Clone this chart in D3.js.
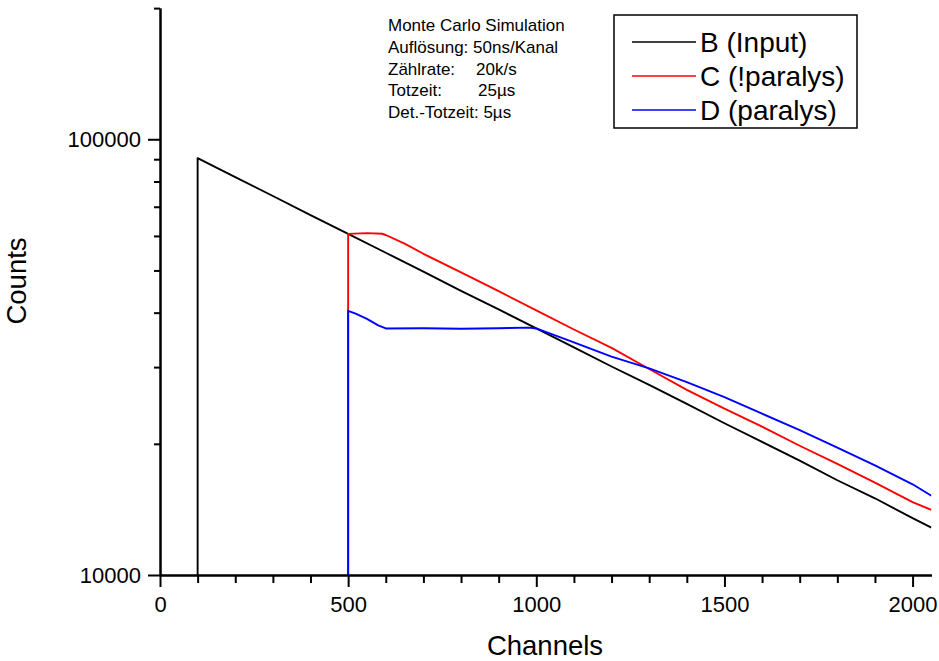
<!DOCTYPE html>
<html>
<head>
<meta charset="utf-8">
<script src="https://cdn.jsdelivr.net/npm/d3@7"></script>
<style>
  body { margin: 0; background: #fff; }
  svg { font-family: "Liberation Sans", Arial, sans-serif; }
</style>
</head>
<body>
<svg id="chart" width="939" height="661"></svg>
<script>
// values (channel, counts)
var channelsB = [100, 100, 200, 300, 400, 500, 600, 700, 800, 900, 1000, 1100, 1200, 1300, 1400, 1500, 1600, 1700, 1800, 1900, 2000, 2050];
var countsB   = [5000, 90500, 81900, 74100, 67000, 60650, 54900, 49700, 44900, 40700, 36800, 33300, 30100, 27300, 24700, 22300, 20200, 18300, 16500, 15000, 13500, 12850];

var channelsC = [500, 500, 550, 590, 600, 650, 700, 800, 900, 1000, 1100, 1200, 1300, 1400, 1500, 1600, 1700, 1800, 1900, 2000, 2050];
var countsC   = [5000, 60650, 60900, 60700, 60300, 57600, 54600, 49500, 44800, 40500, 36600, 33200, 29700, 26600, 24100, 21900, 19800, 18000, 16300, 14700, 14100];

var channelsD = [500, 500, 520, 550, 580, 600, 700, 800, 900, 980, 1000, 1100, 1200, 1300, 1400, 1500, 1600, 1700, 1800, 1900, 2000, 2050];
var countsD   = [5000, 40400, 39800, 38700, 37400, 36800, 36850, 36750, 36850, 36950, 36800, 34200, 31700, 29800, 27700, 25600, 23450, 21500, 19600, 17850, 16150, 15200];

var seriesNames = ["B (Input)", "C (!paralys)", "D (paralys)"];
var seriesColors = ["#000000", "#ff0000", "#0000ff"];

var xMajor = [0, 500, 1000, 1500, 2000];
var xMinor = [100, 200, 300, 400, 600, 700, 800, 900, 1100, 1200, 1300, 1400, 1600, 1700, 1800, 1900];
var yMajor = [10000, 100000];
var yMinor = [20000, 30000, 40000, 50000, 60000, 70000, 80000, 90000, 200000];

var infoLines = [
  ["Monte Carlo Simulation"],
  ["Aufl\u00f6sung: 50ns/Kanal"],
  ["Z\u00e4hlrate:", "20k/s"],
  ["Totzeit:", "25\u00b5s"],
  ["Det.-Totzeit: 5\u00b5s"]
];

var svg = d3.select("#chart");

// scales
var x = d3.scaleLinear().domain([0, 2050]).range([160, 931.4]);
var y = d3.scaleLog().domain([10000, 200000]).range([575, 8.1]);

svg.append("clipPath").attr("id", "plot-clip")
  .append("rect")
  .attr("x", x(0)).attr("y", y(200000))
  .attr("width", x(2050) - x(0)).attr("height", y(10000) - y(200000));

// curves
var line = d3.line()
  .x(function (d) { return x(d[0]); })
  .y(function (d) { return y(d[1]); });

var allSeries = [
  d3.zip(channelsB, countsB),
  d3.zip(channelsC, countsC),
  d3.zip(channelsD, countsD)
];

svg.append("g")
  .attr("clip-path", "url(#plot-clip)")
  .selectAll("path")
  .data(allSeries)
  .enter().append("path")
  .attr("d", line)
  .attr("fill", "none")
  .attr("stroke", function (d, i) { return seriesColors[i]; })
  .attr("stroke-width", 1.9)
  .attr("stroke-linejoin", "round");

// x axis
var gx = svg.append("g").attr("transform", "translate(0," + y(10000) + ")");
gx.call(d3.axisBottom(x).tickValues(xMinor).tickSize(8).tickSizeOuter(0).tickFormat(""));
gx.append("g").call(d3.axisBottom(x).tickValues(xMajor).tickSize(12).tickSizeOuter(0).tickPadding(9).tickFormat(d3.format("d")));

// y axis
var gy = svg.append("g").attr("transform", "translate(" + x(0) + ",0)");
gy.call(d3.axisLeft(y).tickValues(yMinor).tickSize(6).tickSizeOuter(0).tickFormat(""));
gy.append("g").call(d3.axisLeft(y).tickValues(yMajor).tickSize(12).tickSizeOuter(0).tickPadding(7).tickFormat(d3.format("d")));

svg.selectAll(".domain, .tick line").attr("stroke", "#000").attr("stroke-width", 2);
svg.selectAll(".tick text")
  .attr("fill", "#000")
  .style("font-size", "22px")
  .style("font-family", "'Liberation Sans', Arial, sans-serif");

// axis titles
svg.append("text")
  .attr("x", 545).attr("y", 655)
  .attr("text-anchor", "middle")
  .style("font-size", "27.5px")
  .text("Channels");

svg.append("text")
  .attr("transform", "translate(25.5,281) rotate(-90)")
  .attr("text-anchor", "middle")
  .style("font-size", "27.5px")
  .text("Counts");

// simulation info
var info = svg.append("g").style("font-size", "17px");
infoLines.forEach(function (parts, i) {
  var by = 31 + i * 21.8;
  info.append("text").attr("x", 388).attr("y", by).text(parts[0]);
  if (parts.length > 1) {
    info.append("text").attr("x", i === 2 ? 476 : 478).attr("y", by).text(parts[1]);
  }
});

// legend
var legend = svg.append("g");
legend.append("rect")
  .attr("x", 614).attr("y", 15)
  .attr("width", 243).attr("height", 113)
  .attr("fill", "none").attr("stroke", "#000").attr("stroke-width", 1.5);

seriesNames.forEach(function (name, i) {
  var ly = 42 + i * 34;
  legend.append("line")
    .attr("x1", 632).attr("x2", 696)
    .attr("y1", ly).attr("y2", ly)
    .attr("stroke", seriesColors[i]).attr("stroke-width", 1.5);
  legend.append("text")
    .attr("x", 700).attr("y", ly + 10)
    .style("font-size", "28px")
    .text(name);
});
</script>
</body>
</html>
